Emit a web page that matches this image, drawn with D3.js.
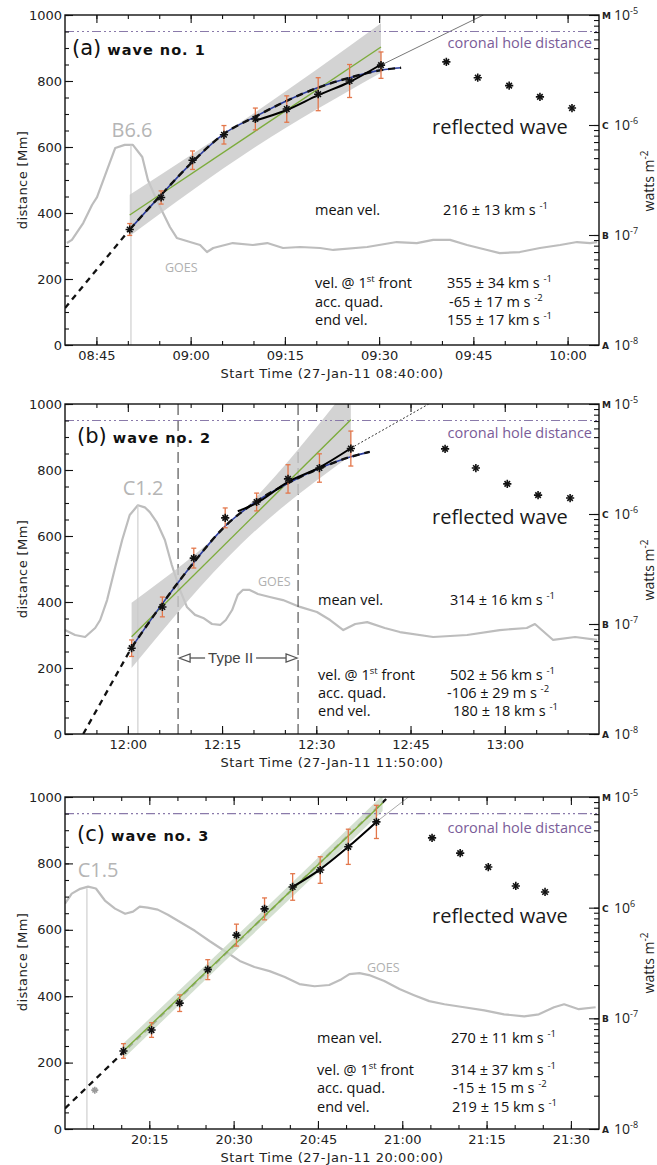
<!DOCTYPE html>
<html>
<head>
<meta charset="utf-8">
<script src="https://cdn.jsdelivr.net/npm/d3@7"></script>
<style>
  body { margin: 0; background: #fff; }
  svg { display: block; }
  .tick text { font-family: "DejaVu Sans", sans-serif; font-size: 13px; fill: #222; }
  .ann { font-family: "Open Sans", sans-serif; font-size: 14.5px; fill: #111; }
</style>
</head>
<body>
<svg id="chart" width="657" height="1165"></svg>
<script>
// times are minutes after the start stamp of each panel, distances in Mm,
// GOES flux in units of 1e-7 W m^-2

// ---- wave no. 1 ----
const frontTimesA = [10.3, 15.3, 20.3, 25.3, 30.3, 35.3, 40.3, 45.3, 50.3];
const frontDistA  = [350, 447, 560, 637, 685, 715, 760, 800, 848];
const frontErrA   = [18, 20, 28, 28, 33, 40, 50, 50, 40];
const reflTimesA  = [60.7, 65.7, 70.7, 75.6, 80.7];
const reflDistA   = [858, 810, 786, 752, 718];
const quadTimesA  = [10.3, 15.3, 20.3, 25.3, 30.3, 35.3, 40.3, 45.3, 50.3, 53.5];
const quadDistA   = [350, 455, 555, 640, 692, 740, 780, 810, 833, 840];
const backTimesA  = [0, 10.3];
const backDistA   = [112, 350];
const endTimesA   = [30.3, 35.3, 40.3, 45.3, 50.3];
const endDistA    = [680, 712, 757, 797, 850];
const extTimesA   = [50.3, 66.6];
const extDistA    = [848, 1000];
const linTimesA   = [10.3, 50.3];
const linDistA    = [394, 903];
const bandTimesA  = [10.3, 30.3, 50.3];
const bandUpA     = [455, 705, 975];
const bandLoA     = [330, 600, 825];
const goesTimesA  = [0.3, 1.1, 2.9, 4.3, 5.1, 6.7, 8.0, 9.5, 10.8, 12.3, 13.2, 14.6, 15.6, 16.7, 17.8,
                     19.9, 21.5, 22.6, 23.6, 26.7, 29.9, 32.2, 34.7, 37.4, 40.6, 42.7, 48.1, 52.8, 56.0,
                     58.6, 61.3, 64.0, 67.2, 69.2, 72.4, 75.6, 78.8, 81.5, 83.6, 84.7];
const goesFluxA   = [0.845, 0.902, 1.285, 1.875, 2.213, 3.90, 6.18, 6.6, 6.6, 5.12, 3.16, 2.08, 1.585, 1.183, 0.94,
                     0.863, 0.811, 0.70, 0.762, 0.845, 0.811, 0.845, 0.762, 0.778, 0.762, 0.731, 0.778, 0.863, 0.845,
                     0.902, 0.902, 0.811, 0.731, 0.685, 0.70, 0.762, 0.811, 0.863, 0.845, 0.863];

// ---- wave no. 2 ----
const frontTimesB = [10.6, 15.5, 20.5, 25.5, 30.5, 35.5, 40.5, 45.5];
const frontDistB  = [260, 385, 533, 655, 703, 773, 806, 865];
const frontErrB   = [25, 30, 30, 30, 27, 43, 43, 53];
const reflTimesB  = [60.5, 65.4, 70.4, 75.3, 80.4];
const reflDistB   = [864, 806, 758, 724, 715];
const quadTimesB  = [10.6, 15.5, 20.5, 25.5, 30.5, 35.5, 40.5, 45.5, 48.5];
const quadDistB   = [262, 395, 520, 630, 705, 760, 805, 840, 855];
const backTimesB  = [2.9, 10.6];
const backDistB   = [0, 262];
const endTimesB   = [27.5, 30.5, 35.5, 40.5, 45.5];
const endDistB    = [675, 700, 764, 808, 866];
const extTimesB   = [45.5, 57.9];
const extDistB    = [866, 1000];
const linTimesB   = [10.6, 45.5];
const linDistB    = [295, 952];
const bandTimesB  = [10.6, 28, 45.5];
const bandUpB     = [398, 670, 1060];
const bandLoB     = [200, 575, 845];
const typeIITimesB = [18.0, 37.1];
const goesTimesB  = [0, 1.6, 3.2, 4.8, 5.6, 6.7, 8.0, 9.1, 10.3, 11.6, 12.7, 13.5, 14.6, 15.9, 17.0,
                     18.3, 19.4, 20.7, 22.0, 23.4, 24.7, 25.6, 26.6, 27.5, 28.3, 29.4, 30.7, 32.6, 34.7, 37.4,
                     40.1, 42.2, 44.3, 46.2, 48.1, 50.9, 53.3, 58.6, 64.0, 69.2, 73.5, 74.8, 77.7, 81.2, 84.7];
const goesFluxB   = [0.881, 0.794, 0.762, 0.92, 1.087, 1.652, 3.3, 5.8, 9.8, 12, 11.5, 10.4, 8.45, 5.8, 3.44,
                     2.04, 1.43, 1.21, 1.135, 1.0, 0.98, 1.087, 1.34, 1.84, 2.04, 2.04, 1.875, 1.76, 1.65, 1.43,
                     1.285, 1.087, 0.881, 1.0, 1.04, 0.92, 0.845, 0.762, 0.794, 0.881, 0.92, 1.0, 0.716, 0.762, 0.716];

// ---- wave no. 3 ----
const frontTimesC = [10.4, 15.4, 20.4, 25.4, 30.5, 35.5, 40.5, 45.4, 50.4, 55.4];
const frontDistC  = [235, 298, 379, 480, 584, 663, 729, 780, 850, 925];
const frontErrC   = [22, 22, 25, 30, 33, 33, 40, 40, 53, 50];
const reflTimesC  = [65.3, 70.3, 75.3, 80.2, 85.4];
const reflDistC   = [877, 831, 789, 732, 714];
const quadTimesC  = [];
const quadDistC   = [];
const backTimesC  = [0, 57.5];
const backDistC   = [62, 1000];
const endTimesC   = [40.5, 45.4, 50.4, 55.4];
const endDistC    = [729, 782, 850, 925];
const extTimesC   = [55.4, 61.1];
const extDistC    = [925, 1000];
const linTimesC   = [10.4, 56.5];
const linDistC    = [235, 982];
const bandTimesC  = [10.4, 33, 56.5];
const bandUpC     = [258, 622, 1005];
const bandLoC     = [212, 580, 958];
const faintTimesC = [5.3];
const faintDistC  = [117];
const goesTimesC  = [0, 1.2, 2.7, 4.1, 5.5, 7.1, 8.9, 10.7, 12.1, 13.3, 14.7, 16.5, 18.3, 20.4, 23.1,
                     25.7, 28.4, 31.1, 33.7, 36.4, 39.1, 41.7, 44.4, 47.0, 49.2, 50.6, 52.4, 54.1, 56.8, 59.5,
                     62.1, 64.8, 67.5, 71.0, 74.6, 78.1, 81.7, 84.3, 87.0, 88.8, 91.4, 94.4];
const goesFluxC   = [10.87, 13.4, 14.8, 15.5, 14.9, 11.6, 9.8, 8.8, 9.2, 10.2, 10, 9.6, 8.63, 7.46, 6.18,
                     5.0, 4.06, 3.3, 2.91, 2.67, 2.36, 2.04, 1.95, 2.0, 2.26, 2.51, 2.56, 2.46, 2.17, 1.84,
                     1.62, 1.43, 1.34, 1.26, 1.18, 1.087, 1.04, 1.087, 1.26, 1.34, 1.21, 1.26];

// ---- shared labels ----
const startStamps = ['27-Jan-11 08:40:00', '27-Jan-11 11:50:00', '27-Jan-11 20:00:00'];
const spans       = [85, 85, 95];
const peakTimes   = [10.5, 11.6, 3.9];
const peakClass   = ['B6.6', 'C1.2', 'C1.5'];
const peakFlux    = [6.6, 12, 15];
const meanVel     = ['216 ± 13', '314 ± 16', '270 ± 11'];
const frontVel    = ['355 ± 34', '502 ± 56', '314 ± 37'];
const accQuad     = ['-65 ± 17', '-106 ± 29', '-15 ± 15'];
const endVel      = ['155 ± 17', '180 ± 18', '219 ± 15'];
const yTicks      = [0, 200, 400, 600, 800, 1000];
const fluxTicks   = [1e-8, 1e-7, 1e-6, 1e-5];
const fluxClasses = ['A', 'B', 'C', 'M'];
const fluxExps    = [['-8', '-7', '-6', '-5'], ['-8', '-7', '-6', '-5'], ['-8', '-7', '6', '-5']];

const panels = [
  {tag: '(a)', name: 'wave no. 1', front: [frontTimesA, frontDistA, frontErrA], refl: [reflTimesA, reflDistA],
   quad: [quadTimesA, quadDistA], back: [backTimesA, backDistA], end: [endTimesA, endDistA],
   ext: [extTimesA, extDistA], lin: [linTimesA, linDistA], band: [bandTimesA, bandUpA, bandLoA],
   goes: [goesTimesA, goesFluxA]},
  {tag: '(b)', name: 'wave no. 2', front: [frontTimesB, frontDistB, frontErrB], refl: [reflTimesB, reflDistB],
   quad: [quadTimesB, quadDistB], back: [backTimesB, backDistB], end: [endTimesB, endDistB],
   ext: [extTimesB, extDistB], lin: [linTimesB, linDistB], band: [bandTimesB, bandUpB, bandLoB],
   goes: [goesTimesB, goesFluxB], typeII: typeIITimesB},
  {tag: '(c)', name: 'wave no. 3', front: [frontTimesC, frontDistC, frontErrC], refl: [reflTimesC, reflDistC],
   quad: [quadTimesC, quadDistC], back: [backTimesC, backDistC], end: [endTimesC, endDistC],
   ext: [extTimesC, extDistC], lin: [linTimesC, linDistC], band: [bandTimesC, bandUpC, bandLoC],
   goes: [goesTimesC, goesFluxC], faint: [faintTimesC, faintDistC]}
];

// layout of each panel (y values relative to the panel top)
const L = 65, R = 599;
const layout = [
  {top: 15,  h: 330, titleX: 72, titleY: 40, annX: 315, annY: [200, 273, 292, 310], valX: [443, 447, 449, 447],
   reflY: 119, holeY: 33, peakX: 132, peakY: 122, goesX: 165, goesY: 257,
   ext: {color: '#777', dash: null}, band: '#c8c8c8', backUnder: false},
  {top: 404, h: 330, titleX: 77, titleY: 39, annX: 318, annY: [201, 276, 294, 312], valX: [450, 450, 447, 453],
   reflY: 120, holeY: 34, peakX: 143, peakY: 91, goesX: 258, goesY: 182,
   ext: {color: '#333', dash: '2,2'}, band: '#c8c8c8', backUnder: false},
  {top: 797, h: 332, titleX: 77, titleY: 44, annX: 317, annY: [246, 278, 296, 315], valX: [451, 451, 453, 452],
   reflY: 126, holeY: 36, peakX: 98, peakY: 80, goesX: 367, goesY: 175,
   ext: {color: '#aaa', dash: null}, band: '#c9d8c4', backUnder: true}
];

const svg = d3.select('#chart');
const parseStamp = d3.timeParse('%d-%b-%y %H:%M:%S');
const fmtTick = d3.timeFormat('%H:%M');
const zip = (a, b, c) => a.map((v, i) => c ? [v, b[i], c[i]] : [v, b[i]]);

function stars(g, pts, X, Y, color, size) {
  const plus = d3.symbol().type(d3.symbolPlus || d3.symbolCross).size(size);
  const times = d3.symbol().type(d3.symbolTimes || d3.symbolCross).size(size * 0.9);
  [plus, times].forEach(sym => {
    g.append('g').selectAll('path').data(pts).enter().append('path')
      .attr('transform', d => `translate(${X(d[0])},${Y(d[1])})`)
      .attr('d', sym)
      .attr('fill', 'none').attr('stroke', color).attr('stroke-width', 1.6);
  });
}

function supText(sel, parts) {
  // parts: [text, isSuper]
  let up = false;
  parts.forEach(([txt, sup]) => {
    const ts = sel.append('tspan').text(txt);
    if (sup && !up) { ts.attr('dy', -6).attr('font-size', '9.5px'); up = true; }
    else if (!sup && up) { ts.attr('dy', 6); up = false; }
  });
}

panels.forEach((p, i) => {
  const lay = layout[i];
  const h = lay.h;
  const g = svg.append('g').attr('transform', `translate(0,${lay.top})`);
  const t0 = parseStamp(startStamps[i]);
  const t1 = d3.timeMinute.offset(t0, spans[i]);
  const x = d3.scaleTime().domain([t0, t1]).range([L, R]);
  const X = m => x(new Date(t0.getTime() + m * 60000));
  const y = d3.scaleLinear().domain([0, 1000]).range([h, 0]);
  const yF = d3.scaleLog().domain([1e-8, 1e-5]).range([h, 0]);
  const YF = f => yF(f * 1e-7);

  const clipId = 'clip' + i;
  g.append('clipPath').attr('id', clipId)
    .append('rect').attr('x', L).attr('y', 0).attr('width', R - L).attr('height', h);
  const plot = g.append('g').attr('clip-path', `url(#${clipId})`);

  // GOES light curve
  plot.append('path')
    .attr('d', d3.line().x(d => X(d[0])).y(d => YF(d[1]))(zip(p.goes[0], p.goes[1])))
    .attr('fill', 'none').attr('stroke', '#bdbdbd').attr('stroke-width', 2.2)
    .attr('stroke-linejoin', 'round');
  plot.append('line')
    .attr('x1', X(peakTimes[i])).attr('x2', X(peakTimes[i]))
    .attr('y1', YF(peakFlux[i])).attr('y2', h)
    .attr('stroke', '#cfcfcf').attr('stroke-width', 1.2);

  // type II borders
  if (p.typeII) {
    plot.selectAll('.t2').data(p.typeII).enter().append('line')
      .attr('x1', d => X(d)).attr('x2', d => X(d)).attr('y1', 0).attr('y2', h)
      .attr('stroke', '#555').attr('stroke-width', 1.2).attr('stroke-dasharray', '11,5');
  }

  const fitLine = (pts, curve) => d3.line().x(d => X(d[0])).y(d => y(d[1])).curve(curve || d3.curveMonotoneX)(pts);
  const drawBack = () => plot.append('path').attr('d', fitLine(zip(p.back[0], p.back[1]), d3.curveLinear))
    .attr('fill', 'none').attr('stroke', '#111').attr('stroke-width', 2.3).attr('stroke-dasharray', '6,5');

  if (lay.backUnder) drawBack();

  // confidence band of the linear fit
  plot.append('path')
    .attr('d', d3.area().x(d => X(d[0])).y0(d => y(d[2])).y1(d => y(d[1])).curve(d3.curveMonotoneX)
      (zip(p.band[0], p.band[1], p.band[2])))
    .attr('fill', lay.band).attr('fill-opacity', 0.8);

  // linear fit
  plot.append('path').attr('d', fitLine(zip(p.lin[0], p.lin[1]), d3.curveLinear))
    .attr('fill', 'none').attr('stroke', '#7dac3c').attr('stroke-width', 1.4);

  if (!lay.backUnder) drawBack();

  // quadratic fit
  if (p.quad[0].length) {
    const qd = fitLine(zip(p.quad[0], p.quad[1]));
    plot.append('path').attr('d', qd).attr('fill', 'none').attr('stroke', '#2b3c9c').attr('stroke-width', 1.6);
    plot.append('path').attr('d', qd).attr('fill', 'none').attr('stroke', '#111')
      .attr('stroke-width', 2.4).attr('stroke-dasharray', '7,5');
  }

  // end segment fit and its extension
  plot.append('path').attr('d', fitLine(zip(p.end[0], p.end[1])))
    .attr('fill', 'none').attr('stroke', '#000').attr('stroke-width', 2);
  const ext = plot.append('path').attr('d', fitLine(zip(p.ext[0], p.ext[1]), d3.curveLinear))
    .attr('fill', 'none').attr('stroke', lay.ext.color).attr('stroke-width', 1);
  if (lay.ext.dash) ext.attr('stroke-dasharray', lay.ext.dash);

  // error bars
  const fr = zip(p.front[0], p.front[1], p.front[2]);
  const eb = plot.append('g').attr('stroke', '#e3774b').attr('stroke-width', 1.3);
  fr.forEach(d => {
    const cx = X(d[0]), y1 = y(d[1] - d[2]), y2 = y(d[1] + d[2]);
    eb.append('line').attr('x1', cx).attr('x2', cx).attr('y1', y1).attr('y2', y2);
    eb.append('line').attr('x1', cx - 2.5).attr('x2', cx + 2.5).attr('y1', y1).attr('y2', y1);
    eb.append('line').attr('x1', cx - 2.5).attr('x2', cx + 2.5).attr('y1', y2).attr('y2', y2);
  });

  stars(plot, fr, X, y, '#111', 24);
  stars(plot, zip(p.refl[0], p.refl[1]), X, y, '#111', 24);
  if (p.faint) stars(plot, zip(p.faint[0], p.faint[1]), X, y, '#999', 18);

  // coronal hole distance
  g.append('line').attr('x1', L).attr('x2', R).attr('y1', y(950)).attr('y2', y(950))
    .attr('stroke', '#8a7aaa').attr('stroke-width', 1.1).attr('stroke-dasharray', '9,3,2,3,2,3,2,3');

  // axes
  const inner = d => d > t0 && d < t1;
  const minorT = x.ticks(d3.timeMinute.every(5)).filter(inner);
  const majorT = x.ticks(d3.timeMinute.every(15)).filter(inner);
  g.append('g').attr('transform', `translate(0,${h})`)
    .call(d3.axisBottom(x).tickValues(minorT).tickSize(-4).tickFormat(''));
  g.append('g').attr('transform', `translate(0,${h})`)
    .call(d3.axisBottom(x).tickValues(majorT).tickSize(-8).tickPadding(6).tickFormat(fmtTick));
  g.append('g').call(d3.axisTop(x).tickValues(minorT).tickSize(-4).tickFormat(''));
  g.append('g').call(d3.axisTop(x).tickValues(majorT).tickSize(-8).tickFormat(''));

  g.append('g').attr('transform', `translate(${L},0)`)
    .call(d3.axisLeft(y).tickValues(d3.range(0, 1001, 50)).tickSize(-4).tickFormat(''));
  g.append('g').attr('transform', `translate(${L},0)`)
    .call(d3.axisLeft(y).tickValues(yTicks).tickSize(-8).tickPadding(3).tickFormat(d3.format('d')));

  g.append('g').attr('transform', `translate(${R},0)`)
    .call(d3.axisRight(yF).tickValues(yF.ticks()).tickSize(-5).tickFormat(''));
  g.append('g').attr('transform', `translate(${R},0)`)
    .call(d3.axisRight(yF).tickValues(fluxTicks).tickSize(-10).tickFormat(''));

  g.selectAll('.domain').remove();
  g.selectAll('.tick line').attr('stroke', '#111').attr('stroke-width', 1.1);
  g.selectAll('.tick text').attr('font-size', null).attr('font-family', null);

  g.append('rect').attr('x', L).attr('y', 0).attr('width', R - L).attr('height', h)
    .attr('fill', 'none').attr('stroke', '#111').attr('stroke-width', 1.4);

  // right axis labels
  fluxTicks.forEach((f, k) => {
    const yy = yF(f);
    g.append('text').attr('x', R + 3).attr('y', yy + 4).text(fluxClasses[k])
      .attr('font-family', 'DejaVu Sans').attr('font-weight', 'bold').attr('font-size', 9).attr('fill', '#222');
    const t = g.append('text').attr('x', R + 15).attr('y', yy + 5)
      .attr('font-family', 'Open Sans').attr('font-size', 14).attr('fill', '#222');
    t.append('tspan').text('10');
    t.append('tspan').attr('dy', -6).attr('font-size', 9).text(fluxExps[i][k]);
  });

  // axis titles
  g.append('text').attr('x', (L + R) / 2).attr('y', h + 33).attr('text-anchor', 'middle')
    .attr('font-family', 'DejaVu Sans').attr('font-size', 13).attr('letter-spacing', 0.5).attr('fill', '#222')
    .text(`Start Time (${startStamps[i]})`);
  g.append('text').attr('transform', `translate(27,${165}) rotate(-90)`).attr('text-anchor', 'middle')
    .attr('font-family', 'DejaVu Sans').attr('font-size', 13).attr('letter-spacing', 0.4).attr('fill', '#222')
    .text('distance [Mm]');
  const wt = g.append('text').attr('transform', `translate(654,${166}) rotate(-90)`).attr('text-anchor', 'middle')
    .attr('font-family', 'Open Sans').attr('font-size', 14).attr('fill', '#222');
  wt.append('tspan').text('watts m');
  wt.append('tspan').attr('dy', -6).attr('font-size', 10).text('-2');

  // panel title
  const tt = g.append('text').attr('x', lay.titleX).attr('y', lay.titleY).attr('fill', '#111')
    .attr('font-family', 'DejaVu Sans');
  tt.append('tspan').attr('font-size', 21).text(p.tag);
  tt.append('tspan').attr('font-size', 14.5).attr('font-weight', 'bold').attr('letter-spacing', 1)
    .text(' ' + p.name);

  // labels in the plot
  g.append('text').attr('x', lay.peakX).attr('y', lay.peakY).attr('text-anchor', 'middle')
    .attr('font-family', 'Open Sans').attr('font-size', 20).attr('fill', '#b5b5b5').text(peakClass[i]);
  g.append('text').attr('x', lay.goesX).attr('y', lay.goesY)
    .attr('font-family', 'Open Sans').attr('font-size', 12.5).attr('fill', '#b0b0b0').text('GOES');
  g.append('text').attr('x', 592).attr('y', lay.holeY).attr('text-anchor', 'end')
    .attr('font-family', 'Open Sans').attr('font-size', 14.5).attr('fill', '#7a5c98').text('coronal hole distance');
  g.append('text').attr('x', 432).attr('y', lay.reflY)
    .attr('font-family', 'Open Sans').attr('font-size', 20).attr('fill', '#1a1a1a').text('reflected wave');

  // fit results
  const labels = [[['mean vel.', false]], [['vel. @ 1', false], ['st', true], [' front', false]],
                  [['acc. quad.', false]], [['end vel.', false]]];
  const vals = [[[meanVel[i] + ' km s ', false], ['-1', true]],
                [[frontVel[i] + ' km s ', false], ['-1', true]],
                [[accQuad[i] + ' m s ', false], ['-2', true]],
                [[endVel[i] + ' km s ', false], ['-1', true]]];
  labels.forEach((parts, k) => {
    supText(g.append('text').attr('class', 'ann').attr('x', lay.annX).attr('y', lay.annY[k]), parts);
    supText(g.append('text').attr('class', 'ann').attr('x', lay.valX[k]).attr('y', lay.annY[k]), vals[k]);
  });

  // type II arrow
  if (p.typeII) {
    const xa = X(p.typeII[0]), xb = X(p.typeII[1]), ya = 254;
    const ar = g.append('g').attr('stroke', '#555').attr('stroke-width', 1.3).attr('fill', '#fff');
    ar.append('line').attr('x1', xa + 10).attr('x2', xa + 27).attr('y1', ya).attr('y2', ya);
    ar.append('line').attr('x1', xa + 78).attr('x2', xb - 12).attr('y1', ya).attr('y2', ya);
    ar.append('path').attr('d', `M${xa + 1},${ya} L${xa + 12},${ya - 4} L${xa + 12},${ya + 4} Z`);
    ar.append('path').attr('d', `M${xb - 1},${ya} L${xb - 12},${ya - 4} L${xb - 12},${ya + 4} Z`);
    g.append('text').attr('x', xa + 30).attr('y', ya + 5)
      .attr('font-family', 'Liberation Sans').attr('font-size', 15).attr('fill', '#444').text('Type II');
  }
});
</script>
</body>
</html>
